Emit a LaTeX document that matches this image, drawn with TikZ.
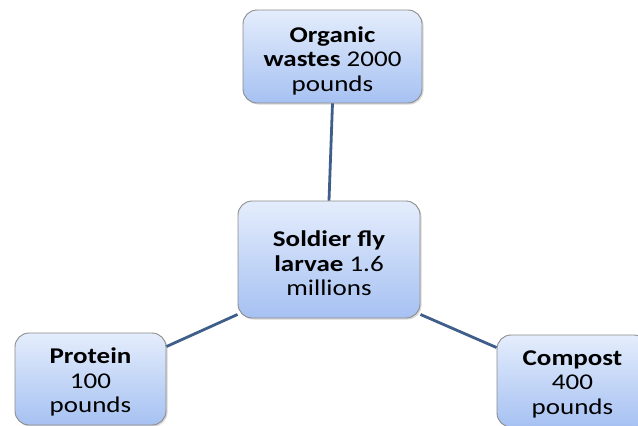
\documentclass[tikz,border=0pt]{standalone}
\usepackage{fontspec}
\setmainfont{Carlito}[FakeStretch=1.2]
\usetikzlibrary{shadows}
\definecolor{edgeblue}{HTML}{3F5F8A}
\definecolor{boxtop}{HTML}{E4EDFC}
\definecolor{boxbot}{HTML}{A6C1F2}
\definecolor{boxline}{HTML}{8C8C8C}
\tikzset{
  box/.style={draw=boxline, line width=0.9pt, rounded corners=14pt,
    top color=boxtop, bottom color=boxbot, inner sep=0pt,
    drop shadow={shadow xshift=1.5pt, shadow yshift=-1.5pt, opacity=0.3, fill=gray}},
  txt/.style={align=center, inner sep=0pt, yshift=-4pt,
    font=\fontsize{22.5}{24.5}\selectfont},
  conn/.style={draw=edgeblue, line width=2.8pt}
}
\begin{document}
\begin{tikzpicture}[x=1pt,y=-1pt]
\useasboundingbox (0,0) rectangle (638,426);
\begin{scope}
\clip (0,0) rectangle (638,426);
\node[box, minimum width=179pt, minimum height=93pt,
  label={[txt]center:{\textbf{Organic}\\\textbf{wastes} 2000\\pounds}}] (org) at (332.5,56.5) {};
\node[box, minimum width=182pt, minimum height=117pt,
  label={[txt]center:{\textbf{Soldier fly}\\\textbf{larvae} 1.6\\millions}}] (ctr) at (329,259.5) {};
\node[box, minimum width=151pt, minimum height=92pt,
  label={[txt,yshift=1pt]center:{\textbf{Protein}\\100\\pounds}}] (prot) at (90.5,379) {};
\node[box, minimum width=151pt, minimum height=92pt,
  label={[txt,yshift=1pt]center:{\textbf{Compost}\\400\\pounds}}] (comp) at (572.5,381) {};
\end{scope}
\draw[conn] (org.south) -- (ctr.north);
\draw[conn] ([yshift=-14pt]prot.north east) -- ([yshift=4pt]ctr.south west);
\draw[conn] ([yshift=4pt]ctr.south east) -- ([yshift=-13pt]comp.north west);
\end{tikzpicture}
\end{document}
